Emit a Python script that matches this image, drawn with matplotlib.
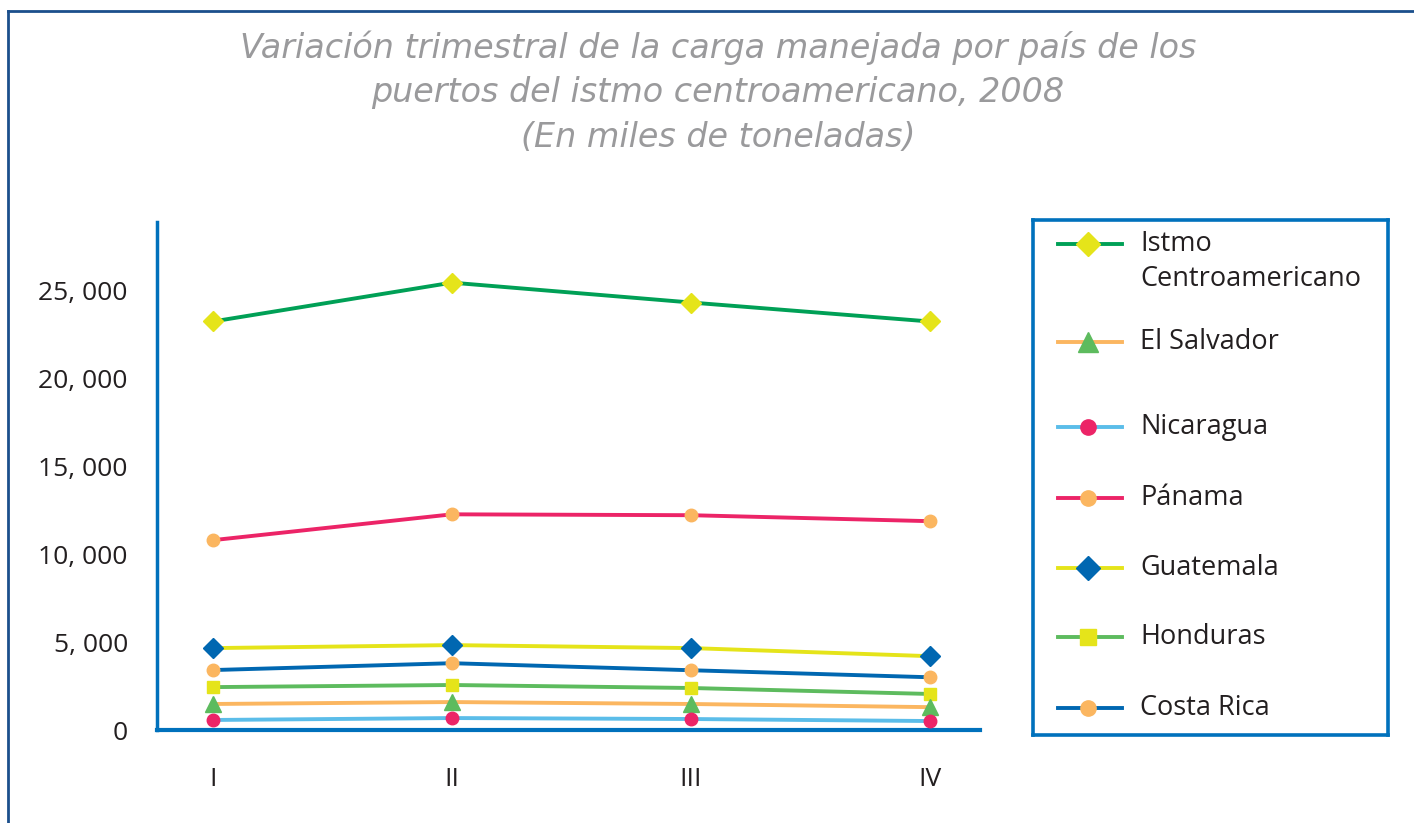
import matplotlib
matplotlib.use("Agg")
import matplotlib.pyplot as plt
from matplotlib.lines import Line2D
from matplotlib.ticker import FuncFormatter

quarters = ["I", "II", "III", "IV"]
series_names = ["Istmo Centroamericano", "El Salvador", "Nicaragua", "Pánama",
                "Guatemala", "Honduras", "Costa Rica"]
istmo = [23240, 25450, 24320, 23240]
el_salvador = [1480, 1590, 1480, 1300]
nicaragua = [570, 680, 625, 510]
panama = [10800, 12270, 12220, 11880]
guatemala = [4660, 4830, 4660, 4200]
honduras = [2440, 2560, 2390, 2050]
costa_rica = [3410, 3800, 3400, 3000]
yticks = [0, 5000, 10000, 15000, 20000, 25000]

values = [istmo, el_salvador, nicaragua, panama, guatemala, honduras, costa_rica]
line_colors = ["#00A056", "#FBB660", "#5BBDE9", "#EC2467", "#E5E41A", "#5DBB5E", "#0067B1"]
marker_colors = ["#E5E41A", "#5DBB5E", "#EC2467", "#FBB660", "#0067B1", "#E5E41A", "#FBB660"]
markers = ["D", "^", "o", "o", "D", "s", "o"]
msizes = [10, 11, 9, 9, 10, 9, 9]
leg_msizes = [12, 15, 11, 11, 12, 11, 11]

W, H = 1414, 823
fig = plt.figure(figsize=(W / 100, H / 100), dpi=100)

# outer frame (top and left edges)
fig.add_artist(Line2D([8 / W, 1.0], [1 - 11 / H, 1 - 11 / H], color="#1B4F8C", lw=2))
fig.add_artist(Line2D([8 / W, 8 / W], [0, 1 - 11 / H], color="#1B4F8C", lw=2))

title = ("Variación trimestral de la carga manejada por país de los\n"
         "puertos del istmo centroamericano, 2008\n"
         "(En miles de toneladas)")
fig.text(718 / W, 1 - 92 / H, title, ha="center", va="center", style="italic",
         color="#9A9A9C", fontsize=24, family="DejaVu Sans", linespacing=1.45)

ax = fig.add_axes([157 / W, 1 - 730 / H, (980 - 157) / W, (730 - 222) / H])
x = list(range(len(quarters)))
order = [0, 3, 4, 6, 5, 1, 2]
for i in order:
    ax.plot(x, values[i], color=line_colors[i], lw=2.8, marker=markers[i],
            markersize=msizes[i], markerfacecolor=marker_colors[i],
            markeredgecolor=marker_colors[i], zorder=3)

ax.set_xlim(-0.234, 3.21)
ax.set_ylim(0, 28900)
ax.set_xticks(x)
ax.set_xticklabels(quarters)
ax.set_yticks(yticks)
ax.yaxis.set_major_formatter(FuncFormatter(lambda v, p: "0" if v == 0 else f"{int(v):,}".replace(",", ", ")))
for s in ["top", "right"]:
    ax.spines[s].set_visible(False)
ax.spines["left"].set_color("#0071BC")
ax.spines["left"].set_linewidth(2.5)
ax.spines["bottom"].set_color("#0071BC")
ax.spines["bottom"].set_linewidth(3)
ax.tick_params(axis="both", length=0, labelsize=19, colors="#231F20")
ax.tick_params(axis="y", pad=21)
ax.tick_params(axis="x", pad=27)
for lab in ax.get_xticklabels() + ax.get_yticklabels():
    lab.set_fontfamily("Open Sans")

# legend box
lax = fig.add_axes([1033 / W, 1 - 735 / H, (1388 - 1033) / W, (735 - 220) / H])
lax.set_xlim(1033, 1388)
lax.set_ylim(735, 220)
lax.set_xticks([])
lax.set_yticks([])
for s in lax.spines.values():
    s.set_color("#0071BC")
    s.set_linewidth(2.6)
leg_y = [244, 342, 427, 498, 568, 637, 708]
for i, yy in enumerate(leg_y):
    lax.add_line(Line2D([1058, 1122], [yy, yy], color=line_colors[i], lw=2.8))
    lax.add_line(Line2D([1088], [yy], marker=markers[i], markersize=leg_msizes[i],
                        markerfacecolor=marker_colors[i], markeredgecolor=marker_colors[i], lw=0))
    label = series_names[i]
    if i == 0:
        lax.text(1140, yy, "Istmo", va="center", ha="left", fontsize=19.5,
                 family="Open Sans", color="#231F20")
        lax.text(1140, yy + 35, "Centroamericano", va="center", ha="left", fontsize=19.5,
                 family="Open Sans", color="#231F20")
    else:
        lax.text(1140, yy, label, va="center", ha="left", fontsize=19.5,
                 family="Open Sans", color="#231F20")

fig.savefig("out.png", dpi=100)
